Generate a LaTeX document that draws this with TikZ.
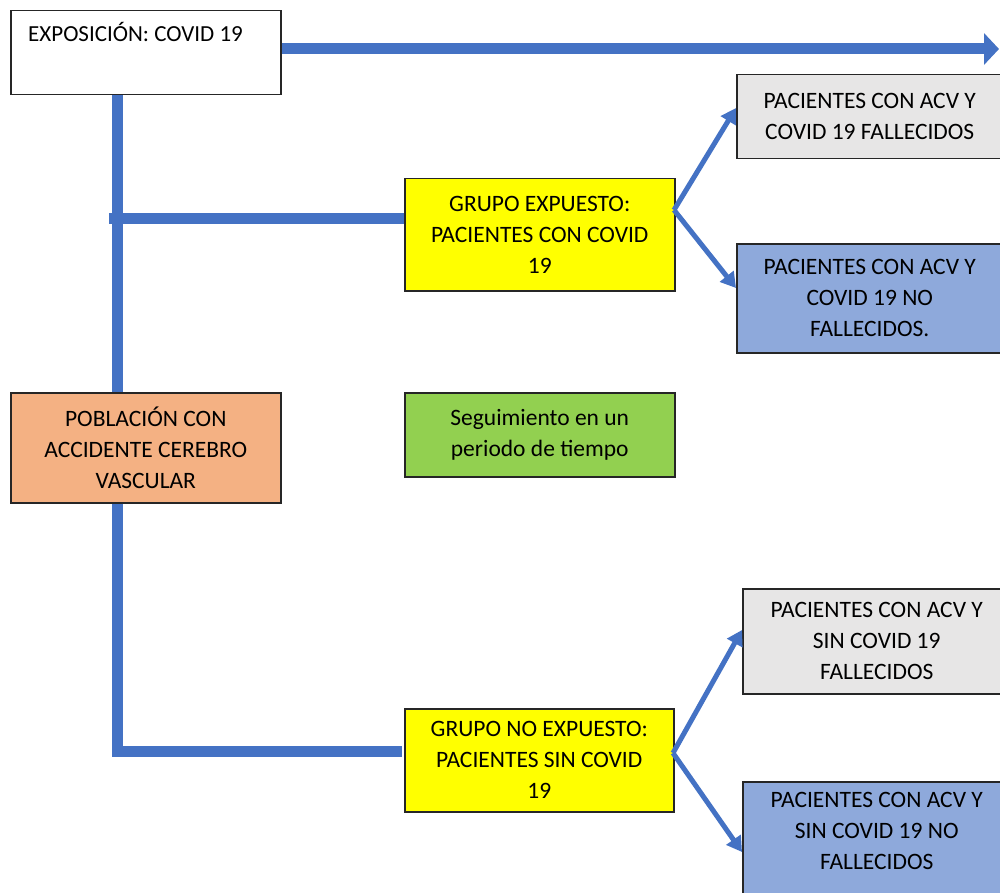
\documentclass[tikz,border=0pt]{standalone}
\usepackage{fontspec}
\setmainfont{Carlito}
\usetikzlibrary{arrows.meta}
\definecolor{lineblue}{HTML}{4472C4}
\definecolor{yel}{HTML}{FFFF00}
\definecolor{orng}{HTML}{F4B183}
\definecolor{grn}{HTML}{92D050}
\definecolor{lgray}{HTML}{E7E6E6}
\definecolor{lblue}{HTML}{8EA9DB}
\definecolor{bord}{HTML}{262626}
\tikzset{
  box/.style={draw=bord, line width=1.5pt, anchor=north west, inner sep=0pt, align=center,
    font=\fontsize{23.5}{31}\selectfont},
  conn/.style={draw=lineblue, line width=11pt, line cap=butt, line join=miter},
  mainarrow/.style={draw=lineblue, line width=11pt, -{Triangle[length=15pt,width=31pt]}, fill=lineblue},
  branch/.style={draw=lineblue, line width=5pt, -{Triangle[length=15pt,width=17pt]}, fill=lineblue}
}
\begin{document}
\begin{tikzpicture}[x=1pt,y=-1pt]
\useasboundingbox (0,0) rectangle (1000,893);
\clip (0,0) rectangle (1000,893);
\fill[white] (0,0) rectangle (1000,893);

% boxes
\node[box, fill=white, minimum width=270pt, minimum height=84pt] (expo) at (10,10) {};
\node[anchor=base west, inner sep=0pt, font=\fontsize{23}{28}\selectfont] (expotxt) at (28,42) {EXPOSICIÓN: COVID 19};

\node[box, fill=yel, minimum width=270pt, minimum height=112pt] (gexp) at (404,178)
  {GRUPO EXPUESTO:\\PACIENTES CON COVID\\19};
\node[box, fill=lgray, minimum width=266pt, minimum height=84pt] (r1) at (736,74)
  {PACIENTES CON ACV Y\\COVID 19 FALLECIDOS};
\node[box, fill=lblue, minimum width=266pt, minimum height=109pt] (r2) at (736,243)
  {PACIENTES CON ACV Y\\COVID 19 NO\\FALLECIDOS.};

\node[box, fill=orng, minimum width=270pt, minimum height=110pt] (pob) at (10,392)
  {POBLACIÓN CON\\ACCIDENTE CEREBRO\\VASCULAR};
\node[box, fill=grn, minimum width=270pt, minimum height=84pt] (seg) at (404,392)
  {Seguimiento en un\\periodo de tiempo};

\node[box, fill=yel, minimum width=269pt, minimum height=103pt] (gno) at (404,708)
  {GRUPO NO EXPUESTO:\\PACIENTES SIN COVID\\19};
\node[box, fill=lgray, minimum width=268pt, minimum height=105pt] (r3) at (742,588)
  {PACIENTES CON ACV Y\\SIN COVID 19\\FALLECIDOS};
\node[box, fill=lblue, minimum width=268pt, minimum height=124pt, text depth=25pt] (r4) at (742,781)
  {PACIENTES CON ACV Y\\SIN COVID 19 NO\\FALLECIDOS};

% helper coordinates
\coordinate (vx) at (117,0);
\coordinate (arrowend) at (999,49);
\coordinate (h1) at (109,219);
\coordinate (h2) at (0,751);
\coordinate (a1) at (674,210);
\coordinate (a2) at (673,753);

% connectors
\draw[mainarrow] (expo.east |- arrowend) -- (arrowend);
\draw[conn] (expo.south -| vx) -- (pob.north -| vx);
\draw[conn] (h1) -- (h1 -| gexp.west);
\draw[conn] (pob.south -| vx) |- ([xshift=-2pt]gno.west |- h2);

\draw[branch] (a1) -- (r1.west |- 0,108);
\draw[branch] (a1) -- (r2.west |- 0,288);
\draw[branch] (a2) -- (r3.west |- 0,630);
\draw[branch] (a2) -- (r4.west |- 0,852);
\end{tikzpicture}
\end{document}
